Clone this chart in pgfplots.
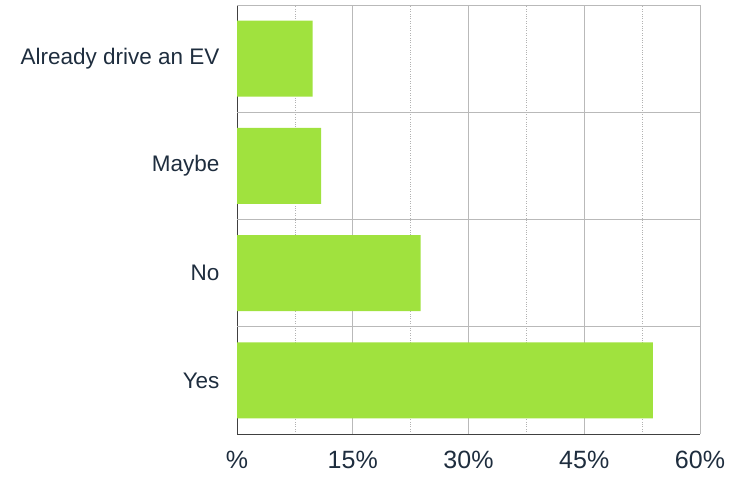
\documentclass[border=0pt]{standalone}
\usepackage{pgfplots}
\pgfplotsset{compat=1.18}
\usepackage{fontspec}
\setmainfont{Liberation Sans}
\definecolor{barg}{RGB}{160,226,62}
\definecolor{txt}{RGB}{30,45,62}
\begin{document}
\begin{tikzpicture}
\begin{axis}[
    name=ax,
    scale only axis,
    width=463pt, height=429pt,
    xbar,
    bar width=76pt,
    xmin=0, xmax=60,
    ymin=-0.5, ymax=3.5,
    xtick={0,15,30,45,60},
    xticklabels={\%,15\%,30\%,45\%,60\%},
    minor xtick={7.5,22.5,37.5,52.5},
    ytick={0,1,2,3},
    yticklabels={Yes,No,Maybe,Already drive an EV},
    xmajorgrids=true, xminorgrids=true,
    major grid style={gray!55, line width=0.7pt},
    minor grid style={gray!60, dotted, line width=0.6pt},
    extra y ticks={0.5,1.5,2.5,3.5},
    extra y tick labels={},
    extra y tick style={grid=major, major grid style={gray!55, line width=0.9pt}, major tick length=0pt},
    axis x line*=bottom, axis y line*=left,
    axis line style={-, black!75, line width=0.8pt},
    major tick length=0pt, minor tick length=0pt,
    tick label style={text=txt},
    xticklabel style={font=\fontsize{25}{28}\selectfont, yshift=-14pt},
    yticklabel style={font=\fontsize{22.5}{26}\selectfont, xshift=-14pt},
]
\addplot[fill=barg, draw=none] coordinates {
    (53.9,0) (23.8,1) (10.9,2) (9.8,3)
};
\end{axis}
\path ([xshift=-237pt,yshift=-45pt]ax.south west) rectangle ([xshift=30pt,yshift=5pt]ax.north east);
\end{tikzpicture}
\end{document}
